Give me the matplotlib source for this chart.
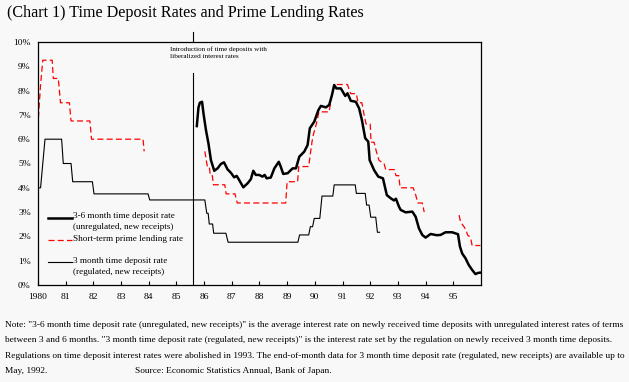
import numpy as np
import matplotlib
matplotlib.use("Agg")
import matplotlib.pyplot as plt

# 3-6 month time deposit rate (unregulated, new receipts)
unreg_years = [1985.74, 1985.80, 1985.85, 1985.93, 1985.98, 1986.07, 1986.16, 1986.25, 1986.37,
               1986.49, 1986.61, 1986.72, 1986.85, 1986.97, 1987.09, 1987.18, 1987.27, 1987.42,
               1987.57, 1987.69, 1987.78, 1987.87, 1987.99, 1988.11, 1988.19, 1988.26, 1988.41,
               1988.54, 1988.70, 1988.77, 1988.86, 1989.02, 1989.20, 1989.32, 1989.44, 1989.62,
               1989.74, 1989.82, 1989.98, 1990.13, 1990.22, 1990.40, 1990.52, 1990.62, 1990.70,
               1990.78, 1990.94, 1991.10, 1991.18, 1991.30, 1991.48, 1991.60, 1991.70, 1991.82,
               1991.93, 1991.98, 1992.14, 1992.29, 1992.46, 1992.60, 1992.74, 1992.86, 1992.93,
               1993.04, 1993.10, 1993.28, 1993.52, 1993.64, 1993.76, 1993.88, 1994.00, 1994.18,
               1994.40, 1994.54, 1994.72, 1994.96, 1995.17, 1995.24, 1995.32, 1995.44, 1995.56,
               1995.68, 1995.80, 1995.90, 1995.98]
unreg_rates = [6.54, 7.30, 7.50, 7.54, 7.07, 6.38, 5.83, 5.14, 4.70,
               4.80, 4.98, 5.05, 4.76, 4.62, 4.43, 4.49, 4.32, 4.02,
               4.18, 4.35, 4.70, 4.53, 4.53, 4.46, 4.53, 4.39, 4.42,
               4.80, 5.07, 4.87, 4.57, 4.60, 4.80, 4.80, 5.28, 5.49,
               5.76, 6.45, 6.72, 7.20, 7.37, 7.31, 7.41, 7.82, 8.23,
               8.09, 8.09, 7.78, 7.89, 7.58, 7.54, 7.27, 6.79, 6.04,
               5.90, 5.14, 4.73, 4.46, 4.39, 3.70, 3.57, 3.48, 3.55,
               3.22, 3.09, 2.99, 3.02, 2.81, 2.33, 2.06, 1.95, 2.10,
               2.05, 2.06, 2.17, 2.17, 2.09, 1.58, 1.30, 1.10, 0.82,
               0.62, 0.45, 0.50, 0.51]

# short-term prime lending rate (three stretches with gaps)
prime_a_years = [1980.00, 1980.10, 1980.18, 1980.52, 1980.56, 1980.74, 1980.82, 1981.14, 1981.20,
                 1981.88, 1981.94, 1983.80, 1983.84]
prime_a_rates = [6.50, 8.25, 9.25, 9.25, 8.50, 8.50, 7.50, 7.50, 6.75,
                 6.75, 6.00, 6.00, 5.50]
prime_b_years = [1986.03, 1986.12, 1986.19, 1986.23, 1986.30, 1986.34, 1986.75, 1986.80, 1987.12,
                 1987.20, 1988.95, 1989.00, 1989.38, 1989.42, 1989.78, 1989.84, 1989.90, 1989.95,
                 1990.05, 1990.15, 1990.52, 1990.60, 1990.70, 1990.78, 1991.18, 1991.25, 1991.30,
                 1991.50, 1991.56, 1991.70, 1991.78, 1991.85, 1992.00, 1992.03, 1992.14, 1992.22,
                 1992.32, 1992.50, 1992.56, 1992.87, 1992.93, 1993.03, 1993.08, 1993.55, 1993.62,
                 1993.72, 1993.88, 1993.95]
prime_b_rates = [5.50, 4.875, 4.875, 4.50, 4.50, 4.125, 4.125, 3.75, 3.75,
                 3.375, 3.375, 4.25, 4.25, 4.875, 4.875, 5.40, 5.90, 6.20,
                 6.60, 7.125, 7.125, 7.75, 8.20, 8.25, 8.25, 8.00, 7.875,
                 7.875, 7.50, 7.50, 7.00, 6.625, 6.625, 5.875, 5.875, 5.50,
                 5.125, 5.00, 4.75, 4.75, 4.50, 4.50, 4.00, 4.00, 3.80,
                 3.375, 3.375, 3.00]
prime_c_years = [1995.21, 1995.26, 1995.32, 1995.40, 1995.46, 1995.52, 1995.58, 1995.64, 1995.68, 1995.98]
prime_c_rates = [2.875, 2.60, 2.50, 2.375, 2.25, 2.05, 2.00, 1.85, 1.625, 1.625]

# 3 month time deposit rate (regulated, new receipts)
reg_years = [1980.00, 1980.10, 1980.18, 1980.26, 1980.86, 1980.92, 1981.20, 1981.26, 1981.97,
             1982.03, 1983.98, 1984.04, 1986.03, 1986.10, 1986.15, 1986.19, 1986.31, 1986.35,
             1986.79, 1986.87, 1989.39, 1989.45, 1989.78, 1989.84, 1989.92, 1989.98, 1990.18,
             1990.26, 1990.65, 1990.70, 1991.46, 1991.50, 1991.82, 1991.87, 1991.96, 1992.02,
             1992.20, 1992.26, 1992.34]
reg_rates = [4.00, 4.00, 5.00, 6.00, 6.00, 5.00, 5.00, 4.25, 4.25,
             3.75, 3.75, 3.50, 3.50, 2.95, 2.95, 2.51, 2.51, 2.13,
             2.13, 1.76, 1.76, 2.06, 2.06, 2.40, 2.40, 2.74, 2.74,
             3.66, 3.66, 4.12, 4.12, 3.77, 3.77, 3.29, 3.29, 2.79,
             2.79, 2.17, 2.17]

liberalization_year = 1985.61
year_ticks = list(range(1980, 1996))
year_labels = ["1980"] + [f"{y % 100:02d}" for y in year_ticks[1:]]
pct_ticks = list(range(0, 11))

bg = "#f8f8f8"
serif = "Liberation Serif"
W, H = 629, 382

fig = plt.figure(figsize=(W / 100, H / 100), dpi=100, facecolor=bg)
ax = fig.add_axes([37.8 / W, 1 - 285 / H, (481 - 37.8) / W, (285 - 42) / H])
ax.set_facecolor(bg)

ax.plot(reg_years, reg_rates, color="black", lw=0.8)
dash = dict(color="#ff0000", lw=0.9, dashes=(4.8, 2.6))
ax.plot(prime_a_years, prime_a_rates, **dash)
ax.plot(prime_b_years, prime_b_rates, **dash)
ax.plot(prime_c_years, prime_c_rates, **dash)
ax.plot(unreg_years, unreg_rates, color="black", lw=1.8)

# marker for the introduction of liberalized time deposits
ax.plot([liberalization_year] * 2, [0, 8.72], color="black", lw=0.8)
ax.plot([liberalization_year] * 2, [10, 10.42], color="black", lw=0.8, clip_on=False)
ax.text(1984.77, 9.55, "Introduction of time deposits with\nliberalized interest rates",
        fontsize=5.1, family=serif, va="center", ha="left", linespacing=1.45)

ax.set_xlim(1980, 1996)
ax.set_ylim(0, 10)
ax.set_xticks(year_ticks)
ax.set_xticklabels(year_labels, family=serif, fontsize=6.8)
ax.set_yticks(pct_ticks)
ax.set_yticklabels([f"{p}%" for p in pct_ticks], family=serif, fontsize=6.8)
ax.tick_params(axis="x", direction="in", length=3, width=0.8, pad=6)
ax.tick_params(axis="y", length=0, pad=5)
for s in ax.spines.values():
    s.set_linewidth(0.9)

# legend, drawn by hand so the sample line sits on the first text line
legend_items = [
    ("3-6 month time deposit rate\n(unregulated, new receipts)", dict(color="black", lw=1.8)),
    ("Short-term prime lending rate", dash),
    ("3 month time deposit rate\n(regulated, new receipts)", dict(color="black", lw=0.8)),
]
legend_rows = [0.277, 0.185, 0.0947]
for (label, style), yy in zip(legend_items, legend_rows):
    ax.plot([0.023, 0.077], [yy, yy], transform=ax.transAxes, **style)
    ax.text(0.080, yy + 0.022, label, transform=ax.transAxes, fontsize=6.6, family=serif,
            va="top", ha="left", linespacing=1.5)

fig.text(7 / W, 1 - 13 / H, "(Chart 1) Time Deposit Rates and Prime Lending Rates",
         family=serif, fontsize=11.6, va="center", ha="left")

notes = [
    'Note: "3-6 month time deposit rate (unregulated, new receipts)" is the average interest rate on newly received time deposits with unregulated interest rates of terms',
    'between 3 and 6 months. "3 month time deposit rate (regulated, new receipts)" is the interest rate set by the regulation on newly received 3 month time deposits.',
    'Regulations on time deposit interest rates were abolished in 1993. The end-of-month data for 3 month time deposit rate (regulated, new receipts) are available up to',
    'May, 1992.',
]
note_size = 6.75
for i, line in enumerate(notes):
    fig.text(5 / W, 1 - (325 + 15.4 * i) / H, line, family=serif, fontsize=note_size,
             va="center", ha="left")
fig.text(135 / W, 1 - (325 + 15.4 * 3) / H, "Source: Economic Statistics Annual, Bank of Japan.",
         family=serif, fontsize=note_size, va="center", ha="left")

fig.savefig("out.png", dpi=100, facecolor=bg)
